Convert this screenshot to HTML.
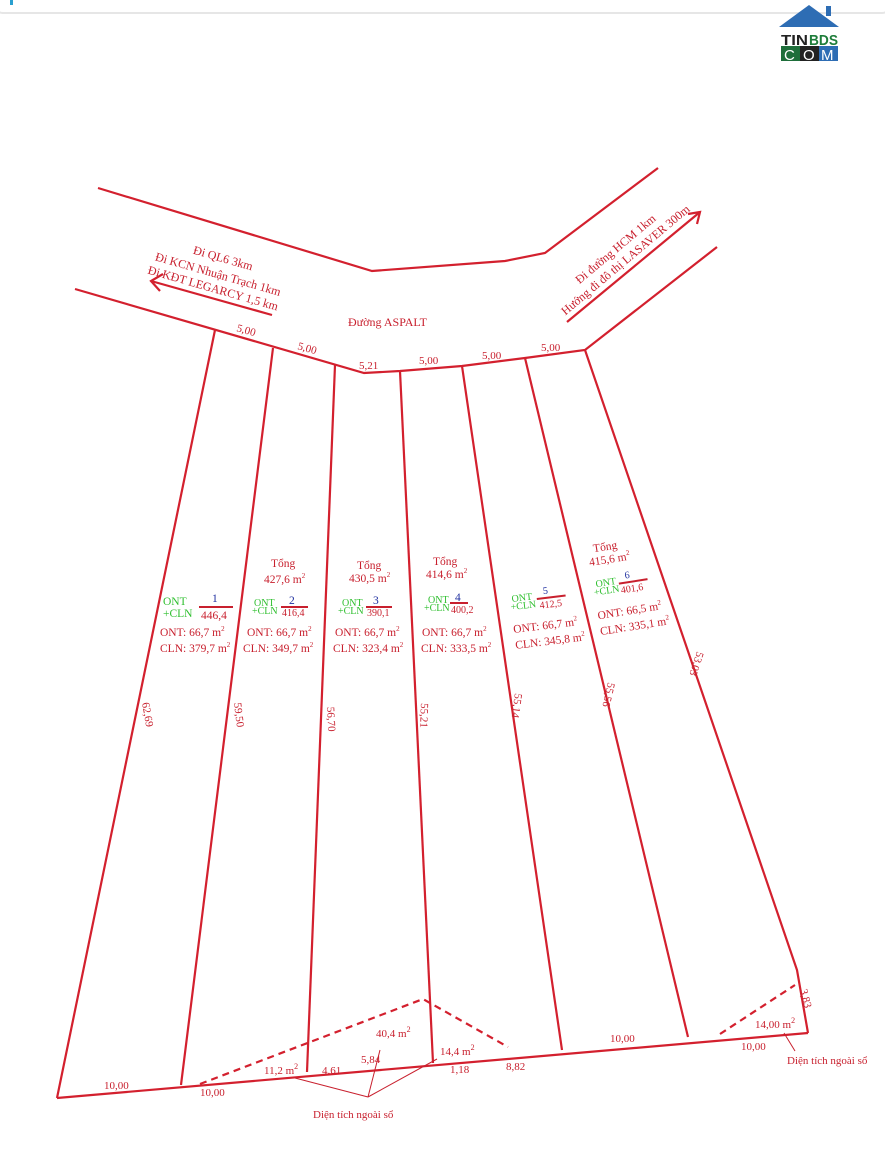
<!DOCTYPE html>
<html><head><meta charset="utf-8"><style>
html,body{margin:0;padding:0;background:#fff;}
svg{display:block;}
text{font-family:"Liberation Serif",serif;fill:#c8202e;}
.g{fill:#2fbf2f;}
.b{fill:#2030a0;}
</style></head><body>
<svg width="885" height="1152" viewBox="0 0 885 1152" xmlns="http://www.w3.org/2000/svg">
<rect x="-5" y="-20" width="895" height="33" rx="8" fill="#fff" stroke="#e6e6e6" stroke-width="2"/>
<rect x="10" y="0" width="3" height="5" fill="#2aa0d0"/>
<!-- logo -->
<polygon points="779,27 809,5 839,27" fill="#2e6db4"/>
<rect x="826" y="6" width="5" height="10" fill="#2e6db4"/>
<text x="781" y="45" style="font-family:'Liberation Sans',sans-serif;font-size:15px;font-weight:bold;fill:#222" textLength="27" lengthAdjust="spacingAndGlyphs">TIN</text>
<text x="809" y="45" style="font-family:'Liberation Sans',sans-serif;font-size:15px;font-weight:bold;fill:#1e7d3a" textLength="29" lengthAdjust="spacingAndGlyphs">BDS</text>
<rect x="781" y="46" width="19" height="15" fill="#1e6e3a"/>
<rect x="800" y="46" width="19" height="15" fill="#222"/>
<rect x="819" y="46" width="19" height="15" fill="#2e6db4"/>
<text x="784" y="60" style="font-family:'Liberation Sans',sans-serif;font-size:15px;fill:#fff">C</text>
<text x="803" y="60" style="font-family:'Liberation Sans',sans-serif;font-size:15px;fill:#fff">O</text>
<text x="821" y="60" style="font-family:'Liberation Sans',sans-serif;font-size:15px;fill:#fff">M</text>

<g stroke="#d3202e" stroke-width="2.2" fill="none">
<polyline points="98,188 372,271 505,261 545,253 658,168"/>
<polyline points="75,289 364,373 400,371 462,366 525,358 585,350 717,247"/>
<line x1="215" y1="330" x2="57" y2="1098"/>
<line x1="273" y1="348" x2="181" y2="1085"/>
<line x1="335" y1="365" x2="307" y2="1072"/>
<line x1="400" y1="371" x2="433" y2="1063"/>
<line x1="462" y1="366" x2="562" y2="1050"/>
<line x1="525" y1="358" x2="688" y2="1037"/>
<polyline points="585,350 797,970 808,1033"/>
<line x1="57" y1="1098" x2="808" y2="1033"/>
<g stroke-dasharray="7,5">
<polyline points="200,1084 423,999 508,1047"/>
<line x1="720" y1="1034" x2="795" y2="985"/>
</g>
<line x1="151" y1="281" x2="272" y2="315"/>
<line x1="567" y1="322" x2="700" y2="212"/>
<polyline points="163,274 151,281 160,291"/>
<polyline points="688,214 700,212 697,224"/>
</g>
<g stroke="#c8202e" stroke-width="1" fill="none">
<line x1="368" y1="1097" x2="295" y2="1078"/>
<line x1="368" y1="1097" x2="380" y2="1050"/>
<line x1="368" y1="1097" x2="437" y2="1059"/>
<line x1="795" y1="1051" x2="784" y2="1033"/>
</g>

<!-- road texts -->
<g font-size="12" text-anchor="middle">
<text transform="translate(222,262) rotate(16)">Đi QL6 3km</text>
<text transform="translate(217,278) rotate(16)">Đi KCN Nhuận Trạch 1km</text>
<text transform="translate(212,292) rotate(16)">Đi KĐT LEGARCY 1,5 km</text>
<text transform="translate(618,252) rotate(-40)">Đi đường HCM 1km</text>
<text transform="translate(628,263) rotate(-40)">Hướng đi đô thị LASAVER 300m</text>
</g>
<g font-size="12"><text x="348" y="326">Đường ASPALT</text></g>
<g font-size="11">
<text transform="translate(236,331) rotate(16)">5,00</text>
<text transform="translate(297,349) rotate(16)">5,00</text>
<text x="359" y="369">5,21</text>
<text x="419" y="364">5,00</text>
<text x="482" y="359">5,00</text>
<text x="541" y="351">5,00</text>
<text transform="translate(142,703) rotate(80)">62,69</text>
<text transform="translate(234,703) rotate(83)">59,50</text>
<text transform="translate(327,707) rotate(87)">56,70</text>
<text transform="translate(421,703) rotate(92)">55,21</text>
<text transform="translate(515,693) rotate(98)">55,14</text>
<text transform="translate(608,682) rotate(103)">55,56</text>
<text transform="translate(697,651) rotate(108)">53,03</text>
<text transform="translate(800,990) rotate(75)">3,83</text>
<text x="104" y="1089">10,00</text>
<text x="200" y="1096">10,00</text>
<text x="264" y="1074">11,2 m<tspan font-size="8" dy="-5">2</tspan></text>
<text x="376" y="1037">40,4 m<tspan font-size="8" dy="-5">2</tspan></text>
<text x="322" y="1074">4.61</text>
<text x="361" y="1063">5,84</text>
<text x="440" y="1055">14,4 m<tspan font-size="8" dy="-5">2</tspan></text>
<text x="450" y="1073">1,18</text>
<text x="506" y="1070">8,82</text>
<text x="610" y="1042">10,00</text>
<text x="741" y="1050">10,00</text>
<text x="755" y="1028">14,00 m<tspan font-size="8" dy="-5">2</tspan></text>
<text x="787" y="1064">Diện tích ngoài sổ</text>
<text x="313" y="1118">Diện tích ngoài sổ</text>
</g>
<!-- lot texts -->
<g font-size="11.5">
<text x="163" y="605" class="g">ONT</text><text x="163" y="617" class="g">+CLN</text>
<text x="212" y="602" class="b">1</text><line x1="199" y1="607" x2="233" y2="607" stroke="#c8202e" stroke-width="2"/><text x="201" y="619">446,4</text>
<text x="160" y="636">ONT: 66,7 m<tspan font-size="7" dy="-5">2</tspan></text>
<text x="160" y="652">CLN: 379,7 m<tspan font-size="7" dy="-5">2</tspan></text>

<text x="271" y="567">Tổng</text><text x="264" y="583">427,6 m<tspan font-size="7" dy="-5">2</tspan></text>
<text x="254" y="606" class="g" font-size="10">ONT</text><text x="252" y="614" class="g" font-size="10">+CLN</text>
<text x="289" y="604" class="b">2</text><line x1="281" y1="607" x2="308" y2="607" stroke="#c8202e" stroke-width="2"/><text x="282" y="616" font-size="10">416,4</text>
<text x="247" y="636">ONT: 66,7 m<tspan font-size="7" dy="-5">2</tspan></text>
<text x="243" y="652">CLN: 349,7 m<tspan font-size="7" dy="-5">2</tspan></text>

<text x="357" y="569">Tổng</text><text x="349" y="582">430,5 m<tspan font-size="7" dy="-5">2</tspan></text>
<text x="342" y="606" class="g" font-size="10">ONT</text><text x="338" y="614" class="g" font-size="10">+CLN</text>
<text x="373" y="604" class="b">3</text><line x1="366" y1="607" x2="392" y2="607" stroke="#c8202e" stroke-width="2"/><text x="367" y="616" font-size="10">390,1</text>
<text x="335" y="636">ONT: 66,7 m<tspan font-size="7" dy="-5">2</tspan></text>
<text x="333" y="652">CLN: 323,4 m<tspan font-size="7" dy="-5">2</tspan></text>

<text x="433" y="565">Tổng</text><text x="426" y="578">414,6 m<tspan font-size="7" dy="-5">2</tspan></text>
<text x="428" y="603" class="g" font-size="10">ONT</text><text x="424" y="611" class="g" font-size="10">+CLN</text>
<text x="455" y="601" class="b">4</text><line x1="450" y1="603" x2="468" y2="603" stroke="#c8202e" stroke-width="2"/><text x="451" y="613" font-size="10">400,2</text>
<text x="422" y="636">ONT: 66,7 m<tspan font-size="7" dy="-5">2</tspan></text>
<text x="421" y="652">CLN: 333,5 m<tspan font-size="7" dy="-5">2</tspan></text>

<g transform="rotate(-7 545 600)">
<text x="512" y="598" class="g" font-size="10">ONT</text><text x="510" y="606" class="g" font-size="10">+CLN</text>
<text x="544" y="594" class="b" font-size="10">5</text><line x1="537" y1="598" x2="566" y2="598" stroke="#c8202e" stroke-width="2"/><text x="539" y="608" font-size="10">412,5</text>
<text x="510" y="629">ONT: 66,7 m<tspan font-size="7" dy="-5">2</tspan></text>
<text x="510" y="645">CLN: 345,8 m<tspan font-size="7" dy="-5">2</tspan></text>
</g>
<g transform="rotate(-9 630 590)">
<text x="600" y="547">Tổng</text><text x="594" y="560">415,6 m<tspan font-size="7" dy="-5">2</tspan></text>
<text x="597" y="582" class="g" font-size="10">ONT</text><text x="594" y="590" class="g" font-size="10">+CLN</text>
<text x="627" y="578" class="b" font-size="10">6</text><line x1="620" y1="582" x2="649" y2="582" stroke="#c8202e" stroke-width="2"/><text x="621" y="592" font-size="10">401,6</text>
<text x="594" y="614">ONT: 66,5 m<tspan font-size="7" dy="-5">2</tspan></text>
<text x="594" y="630">CLN: 335,1 m<tspan font-size="7" dy="-5">2</tspan></text>
</g>
</g>
</svg>
</body></html>
